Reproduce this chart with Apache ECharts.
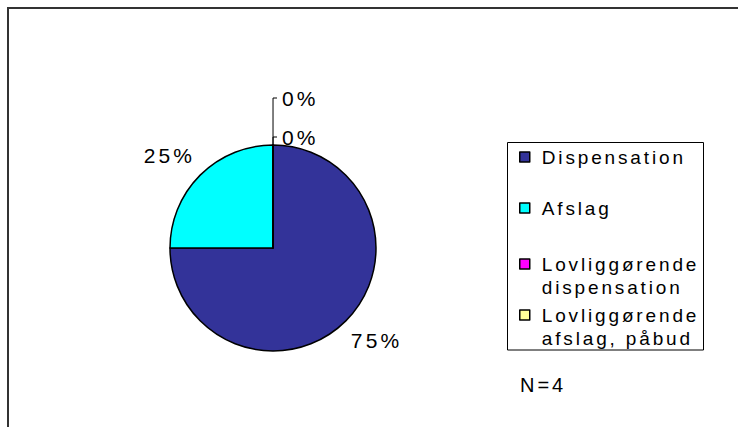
<!DOCTYPE html>
<html>
<head>
<meta charset="utf-8">
<script src="https://cdn.jsdelivr.net/npm/echarts@6/dist/echarts.min.js"></script>
<style>
  html, body { margin: 0; padding: 0; background: #fff; overflow: hidden; }
  #chart { width: 738px; height: 427px; }
  /* wide tracking, like the old office chart text */
  #chart text { letter-spacing: 0.15em; }
</style>
</head>
<body>
<div id="chart"></div>
<script>
// Afgørelser fordelt på type (antal sager)
const categories = ['Dispensation', 'Afslag', 'Lovliggørende\ndispensation', 'Lovliggørende\nafslag, påbud'];
const counts = [3, 1, 0, 0];
const colors = ['#333399', '#00FFFF', '#FF00FF', '#FFFF99'];
const footnote = 'N=4';

const FONT = '"Liberation Sans", Arial, sans-serif';

// big slices: label nudged off the rim, no line; zero slices: leader line up from the top
const labelShift = [20, -20, 0, 0];
const leaderLines = [
  { show: false, length: 0, length2: 0 },
  { show: false, length: 0, length2: 0 },
  { show: true, length: 8, length2: 4 },
  { show: true, length: 47, length2: 4 }
];

const pieData = categories.map((name, i) => ({
  name: name,
  value: counts[i],
  itemStyle: { color: colors[i] },
  labelLine: leaderLines[i]
}));

// two-line entries: square sits at the top of a taller icon box so it lines up with line one
const SQUARE_TALL = 'path://M0,0H10V10H0Z M0,33L0.01,33';

// one legend block per entry so the uneven spacing can be kept
const legendTops = [145.5, 196.5, 252.5, 303.5];
const legends = categories.map((name, i) => {
  const multi = name.indexOf('\n') >= 0;
  return {
    orient: 'vertical',
    left: 519,
    top: legendTops[i],
    padding: 0,
    itemWidth: 10,
    itemHeight: multi ? 33 : 10,
    selectedMode: false,
    itemStyle: { borderColor: '#000', borderWidth: 1.5 },
    data: [{
      name: name,
      icon: multi ? SQUARE_TALL : 'rect',
      textStyle: { padding: [0, 0, 0, 7] }
    }],
    textStyle: {
      fontFamily: FONT,
      fontSize: 19,
      lineHeight: 23,
      color: '#000'
    }
  };
});

const chart = echarts.init(document.getElementById('chart'), null, { renderer: 'svg' });
chart.setOption({
  animation: false,
  backgroundColor: '#fff',
  title: {
    text: footnote,
    left: 520,
    top: 375,
    padding: 0,
    textStyle: { fontFamily: FONT, fontSize: 20, fontWeight: 'normal', color: '#000' }
  },
  legend: legends,
  graphic: [
    // outer chart frame
    { type: 'rect', shape: { x: 8, y: 8, width: 900, height: 600 },
      style: { fill: 'none', stroke: '#333', lineWidth: 2 }, silent: true },
    // legend box
    { type: 'rect', shape: { x: 507.5, y: 142.5, width: 196, height: 207.5 },
      style: { fill: 'none', stroke: '#000', lineWidth: 1 }, silent: true }
  ],
  series: [{
    type: 'pie',
    center: [273, 248],
    radius: 103,
    // a hair off 90 so the empty slices end just right of twelve o'clock
    startAngle: 89.99,
    clockwise: true,
    avoidLabelOverlap: false,
    minShowLabelAngle: 0,
    itemStyle: { borderColor: '#000', borderWidth: 1.5 },
    emphasis: { disabled: true },
    label: {
      show: true,
      position: 'outside',
      distanceToLabelLine: 5,
      fontFamily: FONT,
      fontSize: 21,
      color: '#000',
      formatter: p => Math.round(p.percent) + '%'
    },
    labelLine: {
      lineStyle: { color: '#000', width: 1 }
    },
    labelLayout: params => ({ dy: labelShift[params.dataIndex] }),
    data: pieData
  }]
});
</script>
</body>
</html>
